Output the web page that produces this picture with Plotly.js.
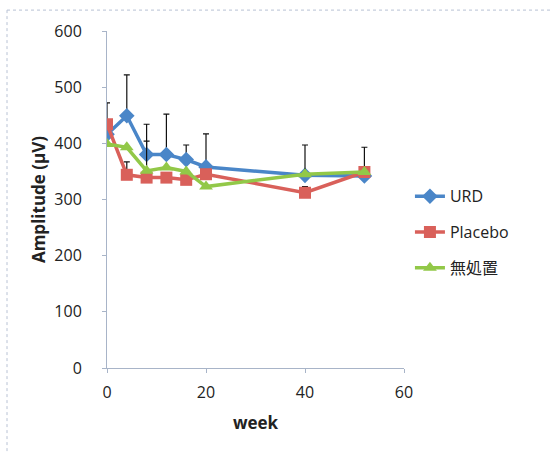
<!DOCTYPE html>
<html><head><meta charset="utf-8">
<script src="https://cdn.plot.ly/plotly-3.0.1.min.js"></script>
<style>body{margin:0;background:#fff}#c{width:550px;height:454px}</style>
</head><body><div id="c"></div>
<script>
const weeks = [0, 4, 8, 12, 16, 20, 40, 52];
const urd = [416, 449, 380, 380, 371, 358, 343, 342];
const placebo = [434, 344, 339, 339, 335, 345, 312, 349];
const untreated = [399, 393, 351, 357, 350, 323, 345, 349];
const urdErr = [null, 73, 54, 72, 26, 59, null, null];
const placeboErr = [38, 23, null, null, null, null, 11, 44];
const untreatedErr = [null, null, 53, null, null, null, 52, null];
const names = ['URD', 'Placebo', '無処置'];

const font = 'Open Sans, Noto Sans CJK JP, sans-serif';
function tr(y, err, name, color, symbol, size, g) {
  return {
    x: weeks, y: y, name: name, type: 'scatter', mode: 'lines+markers',
    legendgroup: g,
    line: {color: color, width: 3.5},
    marker: {color: color, symbol: symbol, size: size},
    error_y: {type: 'data', symmetric: false, array: err, arrayminus: err.map(() => 0),
              color: '#111', thickness: 1.2, width: 3}
  };
}
const data = [
  tr(urd, urdErr, names[0], '#4a86c8', 'diamond', 12, 'a'),
  tr(placebo, placeboErr, names[1], '#d9605a', 'square', 12, 'b'),
  tr(untreated, untreatedErr, names[2], '#92c848', 'triangle-up', 12, 'c')
];
const layout = {
  width: 550, height: 454,
  margin: {l: 107, r: 146, t: 31, b: 86},
  paper_bgcolor: '#fff', plot_bgcolor: '#fff',
  font: {family: font, size: 16, color: '#222'},
  showlegend: true,
  legend: {x: 1.02, y: 0.56, xanchor: 'left', yanchor: 'top', traceorder: 'grouped',
           tracegroupgap: 12, font: {size: 16, color: '#222'}, bgcolor: 'rgba(0,0,0,0)'},
  xaxis: {range: [0, 60], tickvals: [0, 20, 40, 60], showgrid: false, zeroline: false,
          showline: true, linecolor: '#a8b4c8', linewidth: 1, ticks: 'outside', ticklen: 4,
          ticklabelstandoff: 6,
          tickcolor: '#a8b4c8', title: {text: '<b>week</b>', font: {size: 17}, standoff: 14}},
  yaxis: {range: [0, 600], tickvals: [0, 100, 200, 300, 400, 500, 600], showgrid: false,
          zeroline: false, showline: true, linecolor: '#a8b4c8', linewidth: 1, ticks: 'outside',
          ticklen: 4, tickcolor: '#a8b4c8', ticklabelstandoff: 17,
          title: {text: '<b>Amplitude (μV)</b>', font: {size: 17}, standoff: 4}},
  shapes: [
    {type: 'line', xref: 'paper', yref: 'paper', x0: -0.3367, x1: 1.5, y0: 1.062, y1: 1.062,
     line: {color: '#b8c2d4', width: 1, dash: 'dot'}},
    {type: 'line', xref: 'paper', yref: 'paper', x0: -0.3367, x1: -0.3367, y0: 1.062, y1: -0.3,
     line: {color: '#b8c2d4', width: 1, dash: 'dot'}}
  ]
};
Plotly.newPlot('c', data, layout, {displayModeBar: false, staticPlot: true});
</script></body></html>
